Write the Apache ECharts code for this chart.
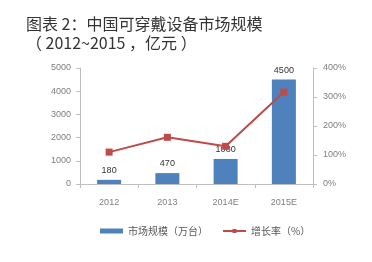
<!DOCTYPE html>
<html><head><meta charset="utf-8">
<script src="https://cdn.jsdelivr.net/npm/echarts@6/dist/echarts.min.js"></script>
<style>html,body{margin:0;padding:0;background:#fff}#c{width:372px;height:262px}</style>
</head><body><div id="c"></div>
<script>
var categories = ['2012', '2013', '2014E', '2015E'];
var marketSize = [180, 470, 1080, 4500];
var growthRate = [110, 161, 130, 317];
var leftTicks = [0, 1000, 2000, 3000, 4000, 5000];
var rightTicks = [0, 100, 200, 300, 400];

var chart = echarts.init(document.getElementById('c'));
var axisCol = '#bfbfbf', labCol = '#7f7f7f';
chart.setOption({
  animation: false,
  title: {
    text: '图表 2：中国可穿戴设备市场规模\n（ 2012~2015 ，亿元 ）',
    left: 21, top: 9,
    textStyle: {fontSize: 16, fontWeight: 'normal', color: '#333', lineHeight: 19, fontFamily: 'Noto Sans CJK SC'}
  },
  legend: {
    bottom: 21, left: 95, itemGap: 14, itemWidth: 23, itemHeight: 5,
    textStyle: {fontSize: 10, color: '#595959', fontFamily: 'Noto Sans CJK SC'},
    data: [{name: '市场规模（万台）', icon: 'rect'}, {name: '增长率（%）'}]
  },
  grid: {left: 80, right: 59, top: 68, bottom: 78},
  xAxis: {
    type: 'category', data: categories,
    axisLine: {lineStyle: {color: axisCol}},
    axisTick: {show: true, length: 4, lineStyle: {color: axisCol}},
    axisLabel: {color: labCol, fontSize: 9, margin: 14}
  },
  yAxis: [{
    type: 'value', min: 0, max: leftTicks[leftTicks.length - 1], interval: 1000,
    axisLine: {show: true, lineStyle: {color: axisCol}},
    axisTick: {show: true, length: 4, lineStyle: {color: axisCol}},
    splitLine: {show: false},
    axisLabel: {color: labCol, fontSize: 9, margin: 9, formatter: function (v) { return String(v); }}
  }, {
    type: 'value', min: 0, max: rightTicks[rightTicks.length - 1], interval: 100,
    axisLine: {show: true, lineStyle: {color: axisCol}},
    axisTick: {show: true, length: 4, lineStyle: {color: axisCol}},
    splitLine: {show: false},
    axisLabel: {color: labCol, fontSize: 9, margin: 10, formatter: '{value}%'}
  }],
  series: [{
    name: '市场规模（万台）', type: 'bar', data: marketSize, barWidth: 24,
    itemStyle: {color: '#4f81bd'},
    label: {show: true, position: 'top', fontSize: 9, color: '#333', distance: 5}
  }, {
    name: '增长率（%）', type: 'line', yAxisIndex: 1, data: growthRate,
    symbol: 'rect', symbolSize: 7,
    lineStyle: {color: '#be4b48', width: 2},
    itemStyle: {color: '#be4b48'}, z: 5
  }]
});
</script></body></html>
